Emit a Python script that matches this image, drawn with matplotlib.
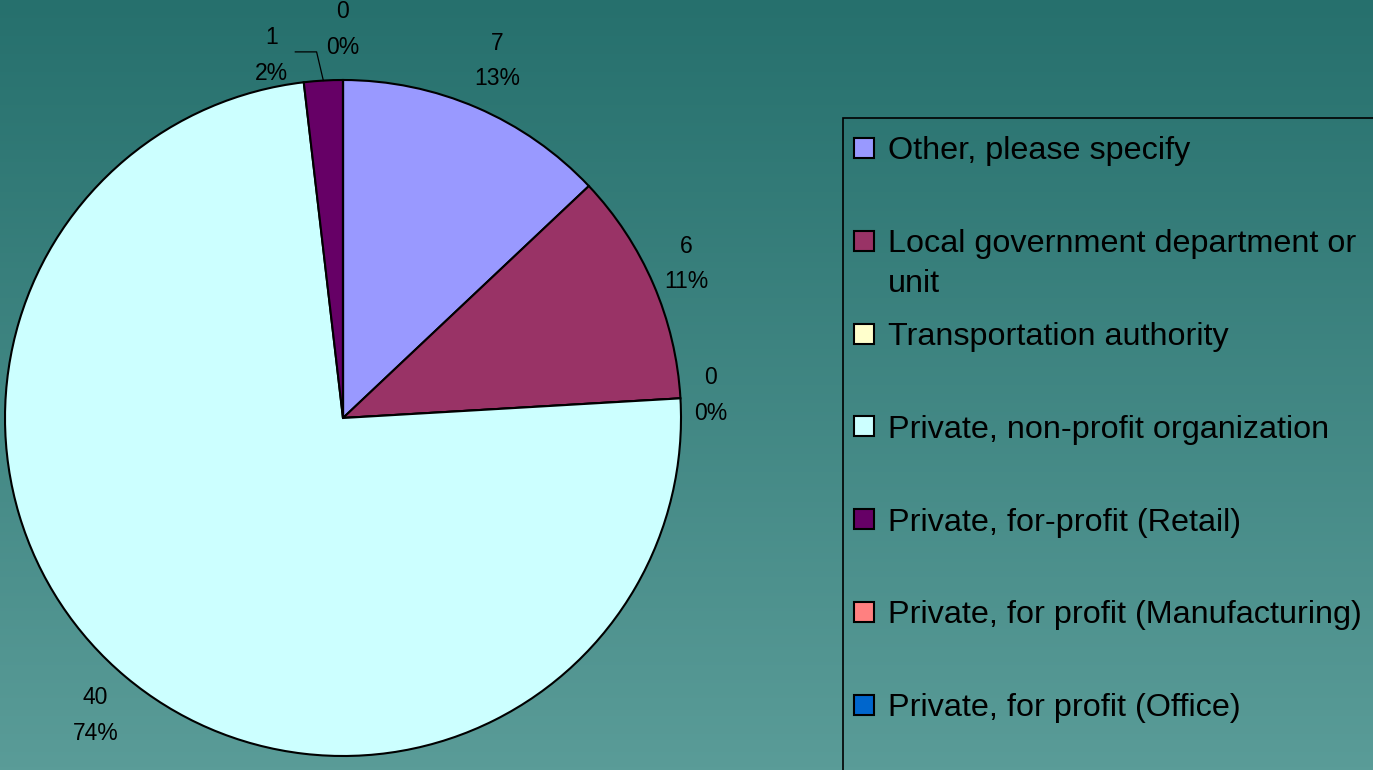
import numpy as np
import matplotlib.pyplot as plt
from matplotlib.patches import Rectangle

# data
categories = ["Other, please specify",
              "Local government department or\nunit",
              "Transportation authority",
              "Private, non-profit organization",
              "Private, for-profit (Retail)",
              "Private, for profit (Manufacturing)",
              "Private, for profit (Office)"]
counts = [7, 6, 0, 40, 1, 0, 0]
colors = ["#9999FF", "#993366", "#FFFFCC", "#CCFFFF", "#660066", "#FF8080", "#0066CC"]

plt.rcParams["font.family"] = ["Liberation Sans", "DejaVu Sans"]

W, H = 1373, 770
fig = plt.figure(figsize=(W / 100, H / 100), dpi=100)

# gradient background
bg = fig.add_axes([0, 0, 1, 1], zorder=-10)
top = np.array([0x26, 0x70, 0x6D]) / 255
bot = np.array([0x5A, 0x9C, 0x98]) / 255
t = np.linspace(0, 1, 256)[:, None]
grad = top[None, :] * (1 - t) + bot[None, :] * t
bg.imshow(grad[:, None, :], aspect="auto", extent=[0, 1, 0, 1])
bg.set_xlim(0, 1)
bg.set_ylim(0, 1)
bg.axis("off")

# pie
cx, cy, R = 343, 418, 338
ax = fig.add_axes([(cx - R) / W, (H - cy - R) / H, 2 * R / W, 2 * R / H])
ax.patch.set_alpha(0)
total = sum(counts)
wedges, _ = ax.pie(counts, colors=colors, startangle=90, counterclock=False,
                   radius=1, wedgeprops=dict(edgecolor="black", linewidth=1.5))
ax.set_xlim(-1, 1)
ax.set_ylim(-1, 1)
ax.set_aspect("equal")
ax.axis("off")

lab_kw = dict(ha="center", va="center", fontsize=16.5, linespacing=1.7,
              color="black", clip_on=False)
seen = set()
for i, w in enumerate(wedges):
    mid = (w.theta1 + w.theta2) / 2
    theta = np.deg2rad(mid)
    pct = round(100 * counts[i] / total)
    txt = f"{counts[i]}\n{pct}%"
    key = (round(mid, 3), txt)
    if key in seen:
        continue
    seen.add(key)
    if 0 < counts[i] / total < 0.03:
        # small slice: leader line
        p0 = (np.cos(theta), np.sin(theta))
        p1 = (1.085 * np.cos(theta) - 0.015, 1.085 * np.sin(theta))
        p2 = (p1[0] - 0.063, p1[1])
        ax.plot([p0[0], p1[0], p2[0]], [p0[1], p1[1], p2[1]], color="black",
                lw=0.9, clip_on=False)
        ax.text(p2[0] - 0.07, p2[1] - 0.01, txt, **lab_kw)
    else:
        # labels sit a bit closer on the sides than top/bottom
        dx = 1.15 - 0.06 * abs(np.cos(theta)) ** 4
        ax.text(dx * np.cos(theta), 1.15 * np.sin(theta), txt, **lab_kw)

# legend, drawn by hand so entries stay evenly spaced
def px(x, y):
    return x / W, 1 - y / H

lx0, ly0 = 843, 118
fig.patches.append(Rectangle(px(lx0, 790), (W + 20 - lx0) / W, (790 - ly0) / H,
                             transform=fig.transFigure, facecolor="none",
                             edgecolor="black", linewidth=1.2))
step = 92.8
sq = 20
for i, (lab, c) in enumerate(zip(categories, colors)):
    y = ly0 + 30 + i * step
    fig.patches.append(Rectangle(px(854, y + sq / 2), sq / W, sq / H,
                                 transform=fig.transFigure, facecolor=c,
                                 edgecolor="black", linewidth=1.5))
    for k, line in enumerate(lab.split("\n")):
        fig.text(*px(888, y + 11.5 + k * 40), line, ha="left", va="baseline",
                 fontsize=23.3, color="black")

fig.savefig("out.png", dpi=100)
